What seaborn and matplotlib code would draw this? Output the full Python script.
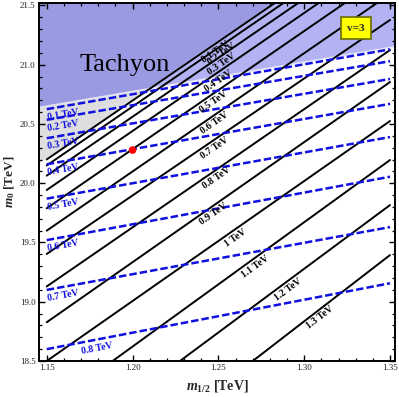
import numpy as np
import pandas as pd
import matplotlib
matplotlib.use("Agg")
import matplotlib.pyplot as plt
import seaborn as sns

# ---------------- data ----------------
m12_range = [1.15, 1.35]                      # TeV, ends of every contour
black_labels = ["0.1 TeV", "0.2 TeV", "0.3 TeV", "0.4 TeV", "0.5 TeV", "0.6 TeV",
                "0.7 TeV", "0.8 TeV", "0.9 TeV", "1 TeV", "1.1 TeV", "1.2 TeV", "1.3 TeV"]
black_m0_left = [20.201, 20.150, 20.064, 19.943, 19.789, 19.600, 19.403,
                 19.129, 18.827, 18.500, 18.097, 17.665, 17.158]
black_m0_right = [22.188, 22.138, 22.053, 21.935, 21.783, 21.597, 21.378,
                  21.124, 20.854, 20.525, 20.196, 19.816, 19.394]

blue_labels = ["0.1 TeV", "0.2 TeV", "0.3 TeV", "0.4 TeV", "0.5 TeV", "0.6 TeV",
               "0.7 TeV", "0.8 TeV"]
blue_m0_left = [20.625, 20.535, 20.38, 20.16, 19.87, 19.52, 19.10, 18.60]
blue_m0_right = [21.13, 21.03, 20.88, 20.67, 20.39, 20.055, 19.63, 19.156]

# tachyonic boundaries (zero-mass lines), m0 at m12 = 1.15 and 1.35
black_zero = [20.218, 22.205]
blue_zero = [20.653, 21.147]

point_m12 = [1.20]
point_m0 = [20.28]

# ---------------- style ----------------
sns.set_theme(style="ticks")
plt.rcParams["font.family"] = ["Liberation Serif", "DejaVu Serif"]
plt.rcParams["mathtext.fontset"] = "custom"
plt.rcParams["mathtext.rm"] = "Liberation Serif:bold"
plt.rcParams["mathtext.it"] = "Liberation Serif:italic:bold"
plt.rcParams["mathtext.bf"] = "Liberation Serif:bold"

fig = plt.figure(figsize=(3.99, 3.97), dpi=100)
ax = fig.add_axes([39 / 399, 1 - 361 / 397, (395 - 39) / 399, (361 - 3) / 397])
xlim = (1.1455, 1.3529)
ylim = (18.5, 21.521)
ax.set_xlim(*xlim)
ax.set_ylim(*ylim)

DARK = "#9a9ae3"
LIGHT = "#b3b3f3"
GRAY = "#dedede"
BLUE = "#1010e0"


def line_at(x, left, right):
    x = np.asarray(x, dtype=float)
    return left + (right - left) * (x - m12_range[0]) / (m12_range[1] - m12_range[0])


# regions
xx = np.linspace(xlim[0], xlim[1], 400)
bz = line_at(xx, *black_zero)
uz = line_at(xx, *blue_zero)
ax.fill_between(xx, np.maximum(bz, uz), ylim[1] + 1, color=DARK, lw=0, zorder=0)
ax.fill_between(xx, uz, bz, where=bz > uz, color=LIGHT, lw=0, zorder=0, interpolate=True)
ax.fill_between(xx, bz, uz, where=uz > bz, color=GRAY, lw=0, zorder=0, interpolate=True)
ax.plot(xx, uz, color="white", lw=0.8, alpha=0.7, zorder=0.5)

# contour lines
rows = []
for lab, l, r in zip(black_labels, black_m0_left, black_m0_right):
    rows.append({"m12": m12_range[0], "m0": l, "level": lab})
    rows.append({"m12": m12_range[1], "m0": r, "level": lab})
df_black = pd.DataFrame(rows)
rows = []
for lab, l, r in zip(blue_labels, blue_m0_left, blue_m0_right):
    rows.append({"m12": m12_range[0], "m0": l, "level": lab})
    rows.append({"m12": m12_range[1], "m0": r, "level": lab})
df_blue = pd.DataFrame(rows)

sns.lineplot(data=df_black, x="m12", y="m0", units="level", estimator=None,
             color="black", lw=1.4, ax=ax, zorder=2, legend=False)
sns.lineplot(data=df_blue, x="m12", y="m0", units="level", estimator=None,
             color=BLUE, lw=1.8, ax=ax, zorder=3, legend=False,
             dashes=False)
for ln in ax.get_lines()[-len(blue_labels):]:
    ln.set_linestyle((0, (3.0, 1.2)))

sns.scatterplot(x=point_m12, y=point_m0, color="red", s=30, edgecolor="none",
                ax=ax, zorder=5, legend=False)


# contour labels
def place_label(x, left, right, text, color, dist=7):
    y = line_at(x, left, right)
    p1 = ax.transData.transform((x, y))
    p2 = ax.transData.transform((x + 0.01, line_at(x + 0.01, left, right)))
    ang = np.degrees(np.arctan2(p2[1] - p1[1], p2[0] - p1[0]))
    th = np.radians(ang)
    dx, dy = np.sin(th) * dist, -np.cos(th) * dist
    ax.annotate(text, (x, y), xytext=(dx, dy), textcoords="offset pixels",
                rotation=ang, rotation_mode="anchor", ha="center", va="center",
                fontsize=7, fontweight="bold", color=color, zorder=4,
                annotation_clip=False)


black_label_x = [1.2463, 1.2498, 1.2498, 1.2475, 1.2446, 1.2457, 1.2457,
                 1.2469, 1.2446, 1.2574, 1.269, 1.2883, 1.3069]
for x, l, r, t in zip(black_label_x, black_m0_left, black_m0_right, black_labels):
    place_label(x, l, r, t, "black")
blue_label_x = [1.1586] * 7 + [1.1785]
for x, l, r, t in zip(blue_label_x, blue_m0_left, blue_m0_right, blue_labels):
    place_label(x, l, r, t, BLUE, dist=8.5)

ax.text(1.1955, 21.0, "Tachyon", fontsize=19, ha="center", va="center",
        color="black", zorder=6)
ax.text(1.3302, 21.31, "v=3", fontsize=8, fontweight="bold", ha="center",
        va="center", zorder=6,
        bbox=dict(boxstyle="square,pad=0.55", fc="#ffff00", ec="#6b6b00", lw=1.2))

# axes / ticks
ax.set_xticks([1.15, 1.20, 1.25, 1.30, 1.35])
ax.set_xticklabels(["1.15", "1.20", "1.25", "1.30", "1.35"])
ax.set_xticks(np.arange(1.15, 1.3501, 0.01), minor=True)
ax.set_yticks([18.5, 19.0, 19.5, 20.0, 20.5, 21.0, 21.5])
ax.set_yticklabels(["18.5", "19.0", "19.5", "20.0", "20.5", "21.0", "21.5"])
ax.set_yticks(np.arange(18.5, 21.501, 0.1), minor=True)
ax.tick_params(which="both", direction="in", top=True, right=True,
               color="black", labelsize=6.5, labelcolor="#222222", pad=2.5)
ax.tick_params(which="major", length=4, width=1.0)
ax.tick_params(which="minor", length=2.2, width=0.9)
for s in ax.spines.values():
    s.set_linewidth(1.4)
    s.set_color("black")

ax.set_xlabel(r"$m_{1/2}$ [TeV]", fontsize=10, fontweight="bold")
ax.set_ylabel(r"$m_0$ [TeV]", fontsize=9.5, fontweight="bold")
ax.xaxis.set_label_coords(0.5, -0.048)
ax.yaxis.set_label_coords(-0.063, 0.5)

fig.savefig("out.png", dpi=100)
